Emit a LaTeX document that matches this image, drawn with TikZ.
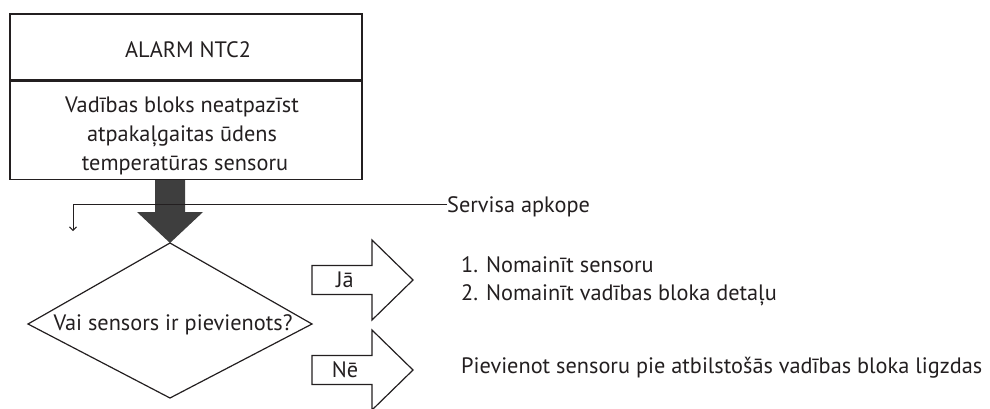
\documentclass[tikz,border=0pt]{standalone}
\usepackage{fontspec}
\setmainfont{PT Sans}
\usetikzlibrary{arrows.meta,calc}
\definecolor{ink}{HTML}{231F20}
\definecolor{bigarrow}{HTML}{3E3E3E}
\tikzset{
  every node/.style={text=ink, inner sep=0pt},
  txt/.style={font=\fontsize{22.3}{27}\selectfont},
  frame/.style={draw=ink, line width=1.4pt},
  outline/.style={draw=ink, line width=1.2pt, line join=miter},
  thinline/.style={draw=ink, line width=1pt},
  choice/.pic={
    \path[outline] (-33,-14.5) -- (27,-14.5) -- (27,-40) -- (68,0)
      -- (27,40) -- (27,14.5) -- (-33,14.5) -- cycle;
  }
}
\begin{document}
\begin{tikzpicture}[x=1pt,y=-1pt]
\useasboundingbox (0,0) rectangle (990,408);

% alarm header and description
\node[frame, minimum width=352pt, minimum height=66pt] (title) at (186,47) {};
\node[frame, minimum width=352pt, minimum height=98pt, anchor=north] (body) at (title.south) {};
\node[txt, anchor=base] (tt) at (188,57) {ALARM NTC2};
\node[txt, anchor=base] (b1) at (182,112) {Vadības bloks neatpazīst};
\node[txt, anchor=base] (b2) at (182,141) {atpakaļgaitas ūdens};
\node[txt, anchor=base] (b3) at (185,170) {temperatūras sensoru};

% decision
\coordinate (qt) at (170,243);
\coordinate (qr) at (312,324);
\coordinate (qb) at (170,398);
\coordinate (ql) at (28,324);
\path[outline] (qt) -- (qr) -- (qb) -- (ql) -- cycle;
\node[txt, anchor=base] (q) at (173,330) {Vai sensors ir pievienots?};

% thick arrow from description to decision
\coordinate (stem) at (qt |- body.south);
\fill[bigarrow] ($(stem)+(-15,0)$) -- ($(stem)+(15,0)$)
  -- ($(qt)+(15,-31)$) -- ($(qt)+(33,-31)$) -- (qt) -- ($(qt)+(-33,-31)$)
  -- ($(qt)+(-15,-31)$) -- cycle;

% service branch
\node[txt, anchor=base west] (srv) at (447,212) {Servisa apkope};
\coordinate (corner) at (73,204);
\coordinate (srvend) at (73,231);
\draw[thinline, -{Straight Barb[length=3.5pt,width=7pt]}]
  (srv.west |- corner) -- (corner) -- (srvend);

% answers
\pic at (345,280) {choice};
\node[txt, anchor=base] (yes) at (345,287) {Jā};
\pic at (345,370) {choice};
\node[txt, anchor=base] (no) at (345,377) {Nē};

\node[txt, anchor=base west] (a1) at (461,272) {1. Nomainīt sensoru};
\node[txt, anchor=base west] (a2) at (461,300) {2. Nomainīt vadības bloka detaļu};
\node[txt, anchor=base west] (a3) at (461,373) {Pievienot sensoru pie atbilstošās vadības bloka ligzdas};
\end{tikzpicture}
\end{document}
